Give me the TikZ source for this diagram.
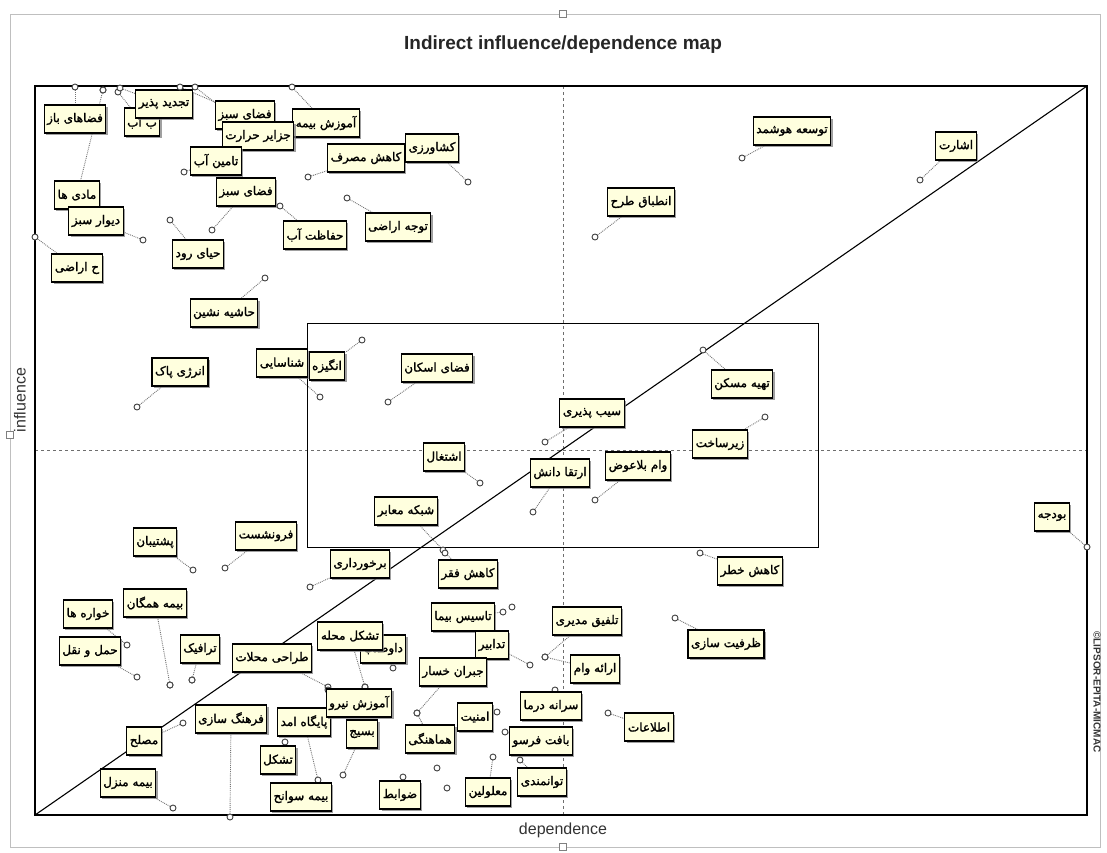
\documentclass[tikz,border=0pt]{standalone}
\usepackage{fontspec}
\setsansfont{Liberation Sans}
\newfontfamily\fafont[Script=Arabic, FakeBold=1.6]{DejaVu Sans}
\TeXXeTstate=1
\usetikzlibrary{shadows,backgrounds}
\definecolor{tagfill}{RGB}{255,255,222}
\definecolor{gridgray}{RGB}{110,110,110}
\newcommand{\fa}[1]{{\fafont\beginR #1\endR}}

\begin{document}
\begin{tikzpicture}[x=1pt, y=-1pt,
  tag/.style={draw=black, line width=1.1pt, fill=tagfill, inner xsep=3pt, inner ysep=0pt,
              minimum height=28pt, font=\fontsize{12}{13}\selectfont,
              drop shadow={shadow xshift=1.8pt, shadow yshift=-1.8pt, opacity=0.75}},
  pt/.style={circle, draw=black!75, fill=white, line width=0.9pt, minimum size=6pt, inner sep=0},
  leader/.style={densely dotted, black!55, line width=0.9pt},
  handle/.style={draw=black!50, fill=white, minimum size=7pt, inner sep=0},
  axislbl/.style={font=\sffamily\fontsize{16}{16}\selectfont, text=black!80},
]
\useasboundingbox (0,0) rectangle (1107,852);
% window frame and its handles
\draw[black!25, line width=1pt] (10,14) rectangle (1100,847);
\node[handle] (htop) at (563,14) {};
\node[handle] (hleft) at (10,435) {};
\node[handle] (hbot) at (563,847) {};
% titles
\node[font=\sffamily\bfseries\fontsize{19}{19}\selectfont, text=black!85] (title) at (563,45) {Indirect influence/dependence map};
\node[axislbl, rotate=90] (infl) at (20,400) {influence};
\node[axislbl] (dep) at (563,830) {dependence};
\node[font=\sffamily\bfseries\fontsize{10}{10}\selectfont, text=black!80, rotate=-90] (copy) at (1097,692) {©LIPSOR-EPITA-MICMAC};
% plot area
\draw[gridgray, dashed, line width=0.6pt] (563,86) -- (563,815);
\draw[gridgray, dashed, line width=0.6pt] (35,450) -- (1087,450);
\draw[line width=1.1pt] (35,86) rectangle (1087,815);
\draw[line width=1.1pt] (35,815) -- (1087,86);
\draw[line width=0.9pt] (307,323) rectangle (818,547);
% loose points
\foreach \px/\py [count=\k] in {512/607, 437/768, 192/680, 170/685, 365/687, 447/788, 103/90} {
  \node[pt] (q\k) at (\px,\py) {};
}
% variables: name / label x / label y / point x / point y / text
\foreach \nm/\lx/\ly/\px/\py/\txt in {
  a1/75/119/75/87/فضاهای باز,
  a2/142/122/118/92/ب آب,
  a3/164/104/120/88/تجدید پذیر,
  a4/245/115/180/87/فضای سبز,
  a6/326/123/292/87/آموزش بیمه,
  a5/258/136/195/87/جزایر حرارت,
  a7/216/161/184/172/تامین آب,
  a8/366/158/308/177/کاهش مصرف,
  a9/432/148/468/182/کشاورزی,
  a10/246/192/212/230/فضای سبز,
  a11/315/235/280/206/حفاظت آب,
  a12/398/227/347/198/توجه اراضی,
  a13/77/195/103/90/مادی ها,
  a14/96/221/143/240/دیوار سبز,
  a15/198/254/170/220/حیای رود,
  a16/77/268/35/237/ح اراضی,
  a17/224/313/265/278/حاشیه نشین,
  a18/180/372/137/407/انرژی پاک,
  a19/282/363/320/397/شناسایی,
  a20/327/366/362/340/انگیزه,
  b1/792/131/742/158/توسعه هوشمد,
  b2/956/146/920/180/اشارت,
  b3/641/202/595/237/انطباق طرح,
  c1/437/368/388/402/فضای اسکان,
  c2/742/384/703/350/تهیه مسکن,
  c3/592/413/545/442/سیب پذیری,
  c4/720/444/765/417/زیرساخت,
  c5/444/457/480/483/اشتغال,
  c6/560/473/533/512/ارتقا دانش,
  c7/638/466/595/500/وام بلاعوض,
  c8/406/511/443/550/شبکه معابر,
  d1/1052/517/1087/547/بودجه,
  d2/750/571/700/553/کاهش خطر,
  d3/726/644/675/618/ظرفیت سازی,
  e1/155/542/193/570/پشتیبان,
  e2/266/536/225/568/فرونشست,
  e3/360/564/310/587/برخورداری,
  e4/155/603/170/685/بیمه همگان,
  e5/88/614/127/645/خواره ها,
  e6/90/651/137/677/حمل و نقل,
  e7/200/649/192/680/ترافیک,
  e8/272/658/328/687/طراحی محلات,
  e10/383/649/393/668/داوطلب,
  e9/350/636/365/687/تشکل محله,
  e12/304/722/318/780/پایگاه امد,
  e11/359/703/328/690/آموزش نیرو,
  e13/231/719/230/817/فرهنگ سازی,
  e14/144/741/183/723/مصلح,
  e15/128/783/173/808/بیمه منزل,
  e16/278/760/285/742/تشکل,
  e17/301/797/287/795/بیمه سوانح,
  e18/362/734/343/775/بسیج,
  e19/430/739/417/713/هماهنگی,
  e20/400/795/403/777/ضوابط,
  e21/475/717/497/712/امنیت,
  e22/541/741/505/732/بافت فرسو,
  e23/488/792/493/757/معلولین,
  e24/542/782/520/760/توانمندی,
  e25/551/706/555/690/سرانه درما,
  e26/649/727/608/713/اطلاعات,
  e27/595/669/545/657/ارائه وام,
  e28/587/621/545/657/تلفیق مدیری,
  e29/468/574/445/553/کاهش فقر,
  e30/463/617/503/612/تاسیس بیما,
  e31/492/645/530/665/تدابیر,
  e32/453/672/417/713/جبران خسار%
}{
  \node[pt] (p\nm) at (\px,\py) {};
  \node[tag] (t\nm) at (\lx,\ly) {\fa{\txt}};
  \begin{pgfonlayer}{background}
    \draw[leader] (p\nm) -- (t\nm);
  \end{pgfonlayer}
}
\end{tikzpicture}
\end{document}
